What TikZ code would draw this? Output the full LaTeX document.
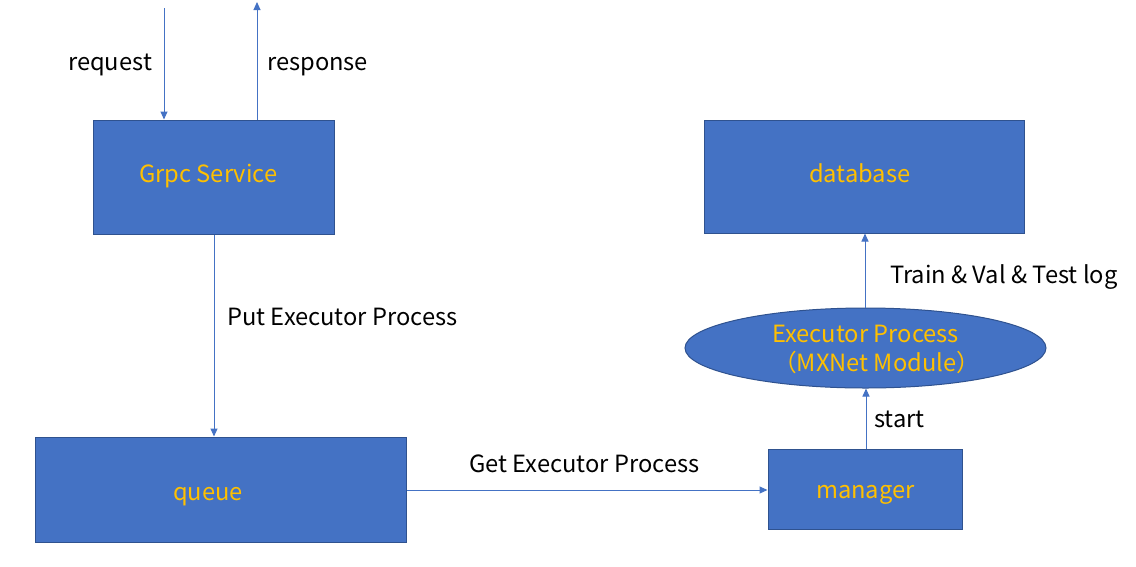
\documentclass[tikz,border=0pt]{standalone}
\usepackage{fontspec}
\setmainfont{Noto Sans CJK SC}
\usetikzlibrary{shapes.geometric,arrows.meta}
\definecolor{boxfill}{HTML}{4472C4}
\definecolor{boxline}{HTML}{2F528F}
\definecolor{boxtext}{HTML}{FFC000}
\tikzset{
  blk/.style={draw=boxline,line width=1pt,fill=boxfill,inner sep=0pt},
  oval/.style={blk,ellipse},
  conn/.style={draw=boxfill,line width=1pt,-{Triangle[length=8pt,width=7pt]}},
  txt/.style={inner sep=0pt,anchor=base west,font=\fontsize{23.7}{28}\selectfont},
  lbl/.style={txt,text=black},
  intxt/.style={txt,text=boxtext}
}
\begin{document}
\begin{tikzpicture}[x=1pt,y=-1pt]
\useasboundingbox (0,0) rectangle (1136,566);
\node[blk,minimum width=241pt,minimum height=114pt] (grpc) at (213.5,177) {};
\node[blk,minimum width=320pt,minimum height=113pt] (db) at (864,176.5) {};
\node[blk,minimum width=371pt,minimum height=105pt] (queue) at (220.5,489.5) {};
\node[blk,minimum width=194pt,minimum height=80pt] (mgr) at (865,489) {};
\node[oval,minimum width=361pt,minimum height=80pt] (exec) at (865.5,348) {};
\node[intxt] (tgrpc) at (139,182) {Grpc Service};
\node[intxt] (tdb) at (809,182) {database};
\node[intxt] (tqueue) at (173,500) {queue};
\node[intxt] (tmgr) at (816,498) {manager};
\node[intxt] (texec1) at (772,342) {Executor Process};
\node[intxt] (texec2) at (773,371) {（MXNet Module）};
\coordinate (reqtop) at (164,8);
\coordinate (restop) at (257,2);
\draw[conn] (reqtop) -- (reqtop |- grpc.north);
\draw[conn] (restop |- grpc.north) -- (restop);
\draw[conn] (grpc.south -| 214,0) -- (queue.north -| 214,0);
\draw[conn] (queue.east |- 0,490) -- (mgr.west |- 0,490);
\draw[conn] (mgr.north -| 866,0) -- (exec.south -| 866,0);
\draw[conn] (exec.north -| 865,0) -- (db.south -| 865,0);
\node[lbl] (lreq) at (68,70) {request};
\node[lbl] (lres) at (267,70) {response};
\node[lbl] (lput) at (227,325) {Put Executor Process};
\node[lbl] (lget) at (469,472) {Get Executor Process};
\node[lbl] (lstart) at (874,427) {start};
\node[lbl] (llog) at (890,283) {Train \& Val \& Test log};
\end{tikzpicture}
\end{document}
